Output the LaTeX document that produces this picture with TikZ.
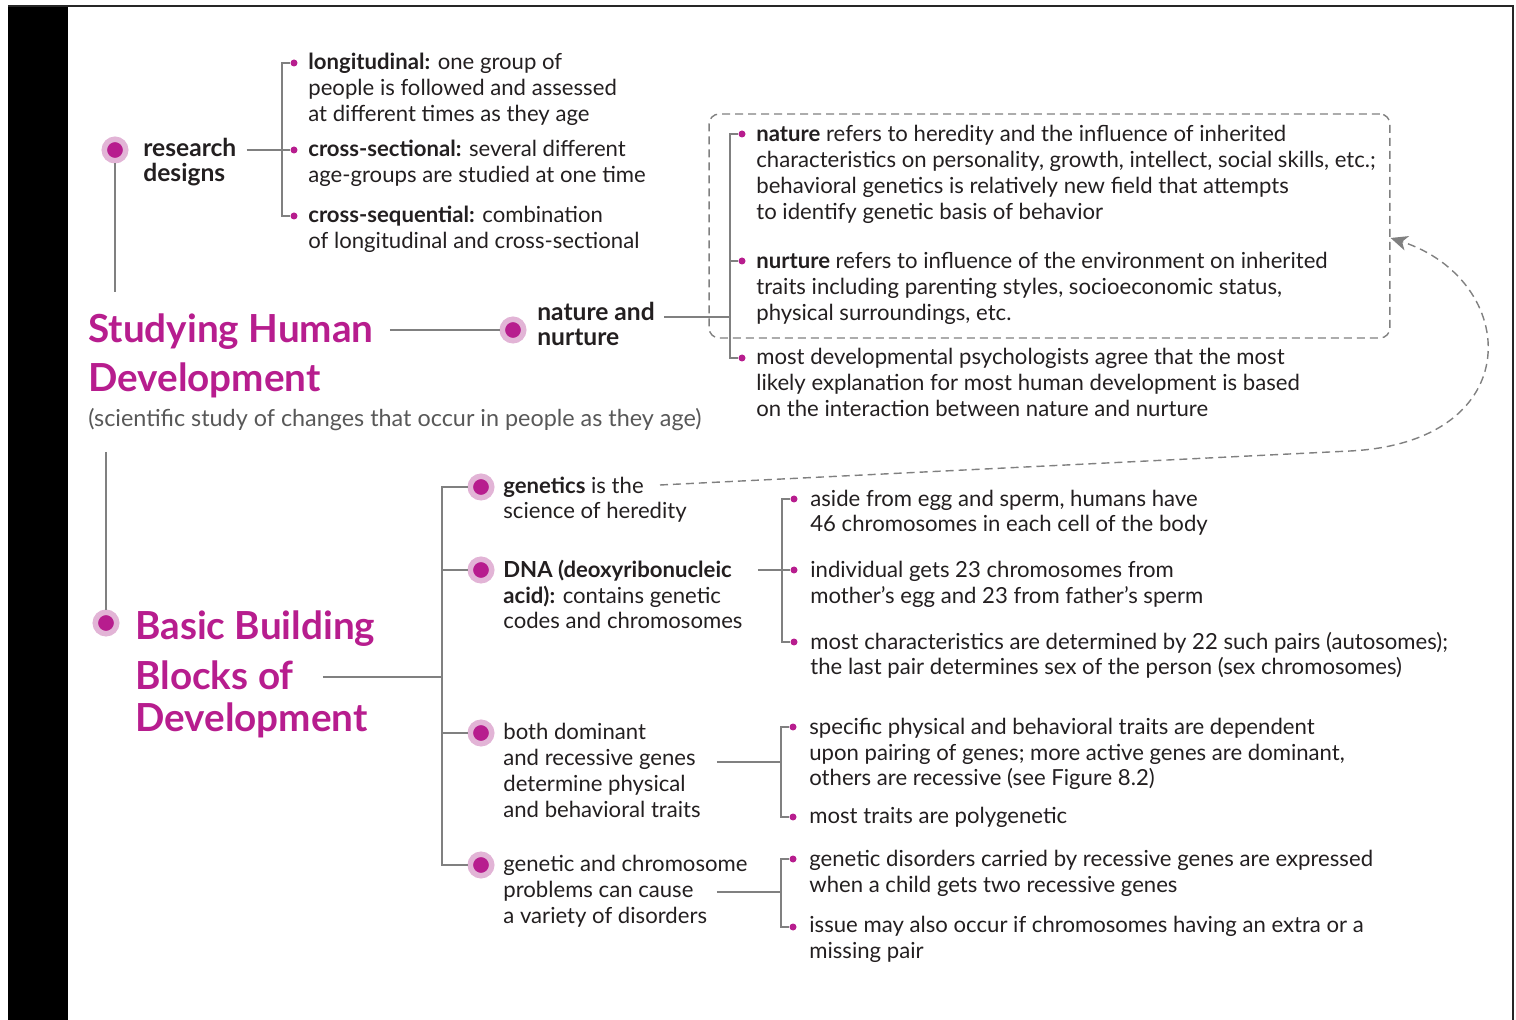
\documentclass[tikz,border=0pt]{standalone}
\usepackage{fontspec}
\setmainfont{Lato}
\usepackage{tikz}
\usetikzlibrary{arrows.meta, positioning}
\definecolor{accentmag}{RGB}{183,29,142}
\definecolor{lightmag}{RGB}{226,180,214}
\definecolor{linegray}{RGB}{128,128,128}
\definecolor{textdark}{RGB}{35,31,32}
\definecolor{subgray}{RGB}{88,88,88}

\begin{document}
\begin{tikzpicture}[x=0.02cm, y=-0.02cm,
    bigdot/.style={circle, fill=accentmag, draw=lightmag, line width=0.11cm,
                   minimum size=0.43cm, inner sep=0pt},
    smalldot/.style={circle, fill=accentmag, minimum size=0.14cm, inner sep=0pt},
    txt/.style={anchor=base west, align=left, inner sep=0pt, text=textdark,
                font=\fontsize{12.6}{14.75}\selectfont},
    lbl/.style={txt, font=\fontsize{14}{14.75}\selectfont\bfseries},
    title/.style={anchor=base west, align=left, inner sep=0pt, text=accentmag,
                  font=\fontsize{22}{28.4}\selectfont\bfseries},
    conn/.style={draw=linegray, line width=0.75pt},
    dashbox/.style={draw=linegray, dash pattern=on 0.16cm off 0.1cm, line width=0.8pt,
                    rounded corners=0.2cm, inner sep=0pt},
    arr/.style={draw=linegray, line width=0.8pt, dash pattern=on 0.16cm off 0.1cm,
                -{Stealth[length=0.34cm, width=0.3cm, inset=0.1cm]}}
  ]
    \useasboundingbox (0,0) rectangle (1516,1020);
    \fill[black] (8,6) rectangle (68,1020);
    \draw[line width=0.6pt, black!85] (8,6) -- (1513,6) -- (1513,1020);

    % research designs
    \node[bigdot] (rd) at (115,150) {};
    \node[lbl] (rdt) at (143,182) {research\\designs};
    \node[smalldot] (lg) at (294,63) {};
    \node[smalldot] (cs) at (294,150) {};
    \node[smalldot] (cq) at (294,216) {};
    \node[txt] (lgt) at (308,121.5) {\textbf{longitudinal:} one group of\\people is followed and assessed\\at different times as they age};
    \node[txt] (cst) at (308,182.5) {\textbf{cross-sectional:} several different\\age-groups are studied at one time};
    \node[txt] (cqt) at (308,248.5) {\textbf{cross-sequential:} combination\\of longitudinal and cross-sectional};
    \coordinate (rdend) at (115,292);
    \draw[conn] (rd) -- (rdend);
    \draw[conn] (lg) -- ++(-12,0) |- (cq);
    \draw[conn] ([xshift=0.2cm]rdt.east |- cs) -- (cs);

    % studying human development
    \node[title] (sh) at (88,392) {Studying Human\\Development};
    \node[txt, text=subgray, font=\fontsize{13.3}{14.75}\selectfont] (sub) at (88,427) {(scientific study of changes that occur in people as they age)};
    \node[bigdot] (nn) at (513,330) {};
    \node[lbl] (nnt) at (537,346) {nature and\\nurture};
    \draw[conn] ([xshift=0.32cm]sh.east |- nn) -- (nn);

    \node[dashbox, minimum width=13.62cm, minimum height=4.48cm] (nbox) at (1049.5,226) {};
    \node[smalldot] (nat) at (742,134) {};
    \node[smalldot] (nur) at (742,261) {};
    \node[smalldot] (both) at (742,358) {};
    \node[txt] (natt) at (756,219.5) {\textbf{nature} refers to heredity and the influence of inherited\\characteristics on personality, growth, intellect, social skills, etc.;\\behavioral genetics is relatively new field that attempts\\to identify genetic basis of behavior};
    \node[txt] (nurt) at (756,320.5) {\textbf{nurture} refers to influence of the environment on inherited\\traits including parenting styles, socioeconomic status,\\physical surroundings, etc.};
    \node[txt] (botht) at (756,416.5) {most developmental psychologists agree that the most\\likely explanation for most human development is based\\on the interaction between nature and nurture};
    \coordinate (nnj) at (730,317);
    \draw[conn] (nat) -- ++(-12,0) |- (both);
    \draw[conn] (nur) -- (nur -| nnj);
    \draw[conn] ([xshift=0.18cm]nnt.east |- nnj) -- (nnj);

    % basic building blocks
    \coordinate (bbtop) at (106,452);
    \node[bigdot] (bb) at (106,623) {};
    \draw[conn] (bbtop) -- (bb);
    \node[title] (bbt) at (135,731) {Basic Building\\Blocks of\\[-5pt]Development};
    \coordinate (bbj) at (442,677);
    \draw[conn] ([xshift=3.76cm]bbt.west |- bbj) -- (bbj);

    \node[bigdot] (gen) at (481,487) {};
    \node[bigdot] (dna) at (481,570) {};
    \node[bigdot] (dom) at (481,733) {};
    \node[bigdot] (chr) at (481,865) {};
    \draw[conn] (gen) -- ++(-39,0) |- (chr);
    \draw[conn] (dna) -- (dna -| bbj);
    \draw[conn] (dom) -- (dom -| bbj);
    \node[txt] (gent) at (503,519) {\textbf{genetics} is the\\science of heredity};
    \node[txt] (dnat) at (503,629) {\textbf{DNA (deoxyribonucleic}\\\textbf{acid):} contains genetic\\codes and chromosomes};
    \node[txt] (domt) at (503,817.5) {both dominant\\and recessive genes\\determine physical\\and behavioral traits};
    \node[txt] (chrt) at (503,923.5) {genetic and chromosome\\problems can cause\\a variety of disorders};

    \node[smalldot] (dn1) at (794,499) {};
    \node[smalldot] (dn2) at (794,570) {};
    \node[smalldot] (dn3) at (794,642) {};
    \node[txt] (dn1t) at (810,532) {aside from egg and sperm, humans have\\46 chromosomes in each cell of the body};
    \node[txt] (dn2t) at (810,603.5) {individual gets 23 chromosomes from\\mother's egg and 23 from father's sperm};
    \node[txt] (dn3t) at (810,675) {most characteristics are determined by 22 such pairs (autosomes);\\the last pair determines sex of the person (sex chromosomes)};
    \draw[conn] (dn1) -- ++(-12,0) |- (dn3);
    \draw[conn] ([xshift=0.3cm]dnat.east |- dn2) -- (dn2);

    \node[smalldot] (dm1) at (793,727) {};
    \node[smalldot] (dm2) at (793,817) {};
    \node[txt] (dm1t) at (809,786) {specific physical and behavioral traits are dependent\\upon pairing of genes; more active genes are dominant,\\others are recessive (see Figure 8.2)};
    \node[txt] (dm2t) at (809,823.5) {most traits are polygenetic};
    \coordinate (domj) at (781,762);
    \draw[conn] (dm1) -- ++(-12,0) |- (dm2);
    \draw[conn] ([xshift=4.28cm]domt.west |- domj) -- (domj);

    \node[smalldot] (ch1) at (793,859) {};
    \node[smalldot] (ch2) at (793,927) {};
    \node[txt] (ch1t) at (809,892) {genetic disorders carried by recessive genes are expressed\\when a child gets two recessive genes};
    \node[txt] (ch2t) at (809,958.5) {issue may also occur if chromosomes having an extra or a\\missing pair};
    \coordinate (chrj) at (781,892);
    \draw[conn] (ch1) -- ++(-12,0) |- (ch2);
    \draw[conn] ([xshift=4.28cm]chrt.west |- chrj) -- (chrj);

    \draw[arr] ([shift={(157,-34)}]gent.base west) -- (1350,451)
      .. controls (1530,442) and (1520,280) .. ([yshift=-0.24cm]nbox.east);
\end{tikzpicture}
\end{document}
